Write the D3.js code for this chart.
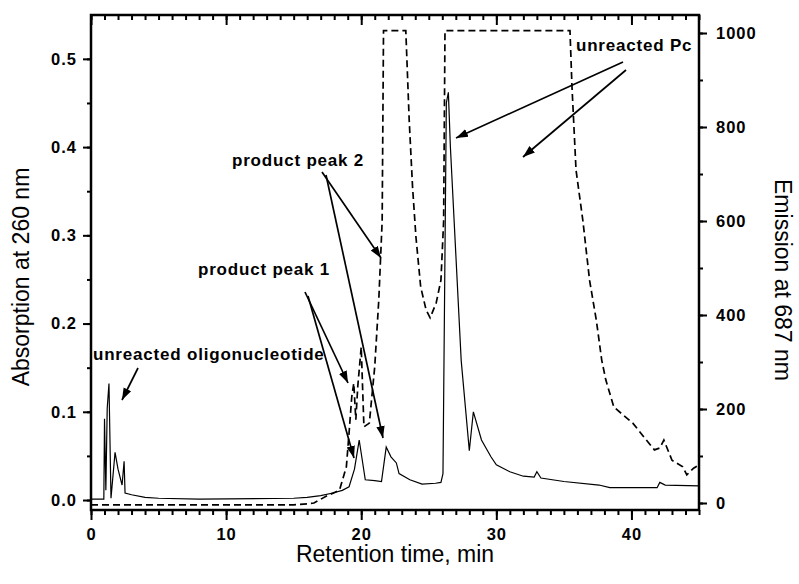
<!DOCTYPE html>
<html>
<head>
<meta charset="utf-8">
<script src="https://cdn.jsdelivr.net/npm/d3@7"></script>
<style>
  body { margin: 0; background: #fff; }
  svg { display: block; }
  .tick text { font-family: "Liberation Sans", Arial, sans-serif; font-weight: bold; font-size: 16.5px; letter-spacing: 1px; }
  .title { font-family: "Liberation Sans", Arial, sans-serif; font-size: 23px; }
  .note { font-family: "Liberation Sans", Arial, sans-serif; font-size: 17px; font-weight: bold; letter-spacing: 0.8px; }
</style>
</head>
<body>
<div class="viewport"></div>
<script>
// retention time (min) and absorption at 260 nm (solid line, left axis)
const absTime = [0, 0.95, 1.0, 1.1, 1.2, 1.33, 1.48, 1.78, 2.0, 2.3, 2.45, 2.52, 3, 4, 5, 8, 15, 16, 17, 17.9,
  18.6, 19.1, 19.5, 19.85, 20.3, 21.0, 21.5, 21.85, 22.2, 22.6, 22.8, 23.6, 24.5, 25.5, 25.9, 26.05, 26.3,
  26.45, 26.6, 27.4, 28.0, 28.3, 28.9, 29.6, 30, 31, 32, 32.8, 33.0, 33.3, 35, 37.6, 38.4, 41.9, 42.1, 42.5, 45];
const absValue = [0.001, 0.001, 0.092, 0.011, 0.104, 0.132, 0.002, 0.054, 0.035, 0.017, 0.044, 0.008, 0.006,
  0.003, 0.002, 0.001, 0.002, 0.003, 0.005, 0.008, 0.011, 0.015, 0.035, 0.068, 0.023, 0.022, 0.021, 0.060,
  0.049, 0.042, 0.030, 0.023, 0.018, 0.019, 0.020, 0.030, 0.45, 0.462, 0.40, 0.158, 0.056, 0.100, 0.068,
  0.049, 0.040, 0.032, 0.027, 0.026, 0.032, 0.025, 0.021, 0.017, 0.014, 0.014, 0.020, 0.017, 0.016];

// retention time (min) and emission at 687 nm (dashed line, right axis)
const emTime = [0, 15, 16, 16.5, 17, 17.5, 18, 18.4, 18.9, 19.1, 19.3, 19.45, 19.6, 19.75, 20.0, 20.2, 20.6,
  21.0, 21.3, 21.55, 21.65, 23.3, 23.55, 23.8, 24.05, 24.4, 24.8, 25.1, 25.55, 25.9, 26.1, 26.2, 35.45, 35.6,
  35.9, 36.4, 36.9, 37.4, 37.8, 38.1, 38.7, 40.1, 41.1, 41.7, 42.1, 42.4, 43.0, 43.8, 44.1, 44.6, 45];
const emValue = [-4, -4, -2, 0, 8, 16, 22, 28, 77, 149, 226, 255, 177, 250, 332, 162, 170, 290, 432, 600,
  1005, 1005, 815, 672, 566, 460, 411, 394, 426, 474, 600, 1005, 1005, 885, 708, 602, 474, 389, 304, 262,
  204, 170, 134, 113, 117, 134, 91, 77, 60, 74, 81];

const xTicks = [0, 10, 20, 30, 40];
const leftTicks = [0.0, 0.1, 0.2, 0.3, 0.4, 0.5];
const rightTicks = [0, 200, 400, 600, 800, 1000];

const W = 799, H = 584;
const m = { left: 91, right: 699, top: 15, bottom: 510 };

const svg = d3.select(".viewport").append("svg").attr("width", W).attr("height", H);

const x = d3.scaleLinear().domain([0, 45]).range([m.left, m.right]);
const yL = d3.scaleLinear().domain([-0.0113, 0.5497]).range([m.bottom, m.top]);
const yR = d3.scaleLinear().domain([-14.9, 1038.3]).range([m.bottom, m.top]);

const defs = svg.append("defs");
defs.append("clipPath").attr("id", "plot")
  .append("rect").attr("x", m.left).attr("y", m.top)
  .attr("width", m.right - m.left).attr("height", m.bottom - m.top);

defs.append("marker")
  .attr("id", "head").attr("viewBox", "0 0 10 10").attr("refX", 10).attr("refY", 5)
  .attr("markerWidth", 12).attr("markerHeight", 12).attr("markerUnits", "userSpaceOnUse")
  .attr("orient", "auto")
  .append("path").attr("d", "M0,1.5 L10,5 L0,8.5 Z").attr("fill", "#000");

// curves
const plot = svg.append("g").attr("clip-path", "url(#plot)");
plot.append("path")
  .datum(d3.zip(emTime, emValue))
  .attr("fill", "none").attr("stroke", "#000").attr("stroke-width", 1.7)
  .attr("stroke-dasharray", "7,4")
  .attr("d", d3.line().x(d => x(d[0])).y(d => yR(d[1])));
plot.append("path")
  .datum(d3.zip(absTime, absValue))
  .attr("fill", "none").attr("stroke", "#000").attr("stroke-width", 1.2)
  .attr("d", d3.line().x(d => x(d[0])).y(d => yL(d[1])));

// axes
const styleAxis = g => {
  g.select(".domain").remove();
  g.selectAll("line").attr("stroke", "#000").attr("stroke-width", 2);
};

svg.append("g").attr("transform", `translate(0,${m.bottom})`)
  .call(d3.axisBottom(x).tickValues(d3.range(0, 46, 1)).tickSize(5).tickFormat(""))
  .call(styleAxis);
svg.append("g").attr("transform", `translate(0,${m.bottom})`)
  .call(d3.axisBottom(x).tickValues(xTicks).tickSize(10).tickPadding(8).tickFormat(d3.format("d")))
  .call(styleAxis);

svg.append("g").attr("transform", `translate(0,${m.top})`)
  .call(d3.axisBottom(x).tickValues(d3.range(0, 46, 1)).tickSize(5).tickFormat(""))
  .call(styleAxis);
svg.append("g").attr("transform", `translate(0,${m.top})`)
  .call(d3.axisBottom(x).tickValues(xTicks).tickSize(10).tickFormat(""))
  .call(styleAxis);

svg.append("g").attr("transform", `translate(${m.left},0)`)
  .call(d3.axisLeft(yL).tickValues(d3.range(0, 0.55, 0.05)).tickSize(4).tickFormat(""))
  .call(styleAxis);
svg.append("g").attr("transform", `translate(${m.left},0)`)
  .call(d3.axisLeft(yL).tickValues(leftTicks).tickSize(8).tickPadding(6).tickFormat(d3.format(".1f")))
  .call(styleAxis);

svg.append("g").attr("transform", `translate(${m.right},0)`)
  .call(d3.axisRight(yR).tickValues(d3.range(0, 1001, 100)).tickSize(4).tickFormat(""))
  .call(styleAxis);
svg.append("g").attr("transform", `translate(${m.right},0)`)
  .call(d3.axisRight(yR).tickValues(rightTicks).tickSize(8).tickPadding(9).tickFormat(d3.format("d")))
  .call(styleAxis);

svg.selectAll(".tick text").attr("fill", "#000");

// frame
svg.append("rect")
  .attr("x", m.left).attr("y", m.top).attr("width", m.right - m.left).attr("height", m.bottom - m.top)
  .attr("fill", "none").attr("stroke", "#000").attr("stroke-width", 2.5);

// titles
svg.append("text").attr("class", "title").attr("x", 395).attr("y", 562)
  .attr("text-anchor", "middle").text("Retention time, min");
svg.append("text").attr("class", "title")
  .attr("transform", "translate(29,277) rotate(-90)")
  .attr("text-anchor", "middle").text("Absorption at 260 nm");
svg.append("text").attr("class", "title")
  .attr("transform", "translate(775,280) rotate(90)")
  .attr("text-anchor", "middle").text("Emission at 687 nm");

// annotations
const notes = [
  { text: "unreacted oligonucleotide", x: 93, y: 360 },
  { text: "product peak 1", x: 198, y: 275 },
  { text: "product peak 2", x: 232, y: 166 },
  { text: "unreacted Pc", x: 576, y: 51 }
];
svg.selectAll(".note").data(notes).enter().append("text")
  .attr("class", "note").attr("x", d => d.x).attr("y", d => d.y).text(d => d.text);

const arrows = [
  [138, 368, 122, 400],
  [305, 292, 348, 383],
  [308, 296, 354, 458],
  [322, 172, 381, 258],
  [326, 175, 383, 438],
  [623, 62, 456, 138],
  [626, 70, 523, 157]
];
svg.selectAll(".arrow").data(arrows).enter().append("line")
  .attr("class", "arrow")
  .attr("x1", d => d[0]).attr("y1", d => d[1]).attr("x2", d => d[2]).attr("y2", d => d[3])
  .attr("stroke", "#000").attr("stroke-width", 1.7)
  .attr("marker-end", "url(#head)");
</script>
</body>
</html>
